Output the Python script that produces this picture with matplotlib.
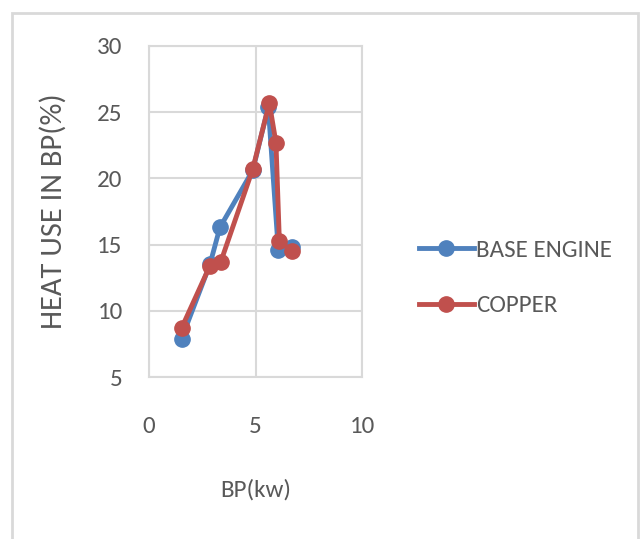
import matplotlib.pyplot as plt
from matplotlib.patches import Rectangle
from matplotlib.lines import Line2D

# data
base_bp = [1.53, 2.86, 3.33, 4.87, 5.6, 6.07, 6.7]
base_heat = [7.9, 13.5, 16.3, 20.6, 25.4, 14.6, 14.8]
copper_bp = [1.53, 2.86, 3.37, 4.87, 5.65, 5.96, 6.12, 6.7]
copper_heat = [8.7, 13.4, 13.7, 20.7, 25.7, 22.7, 15.3, 14.5]
series_names = ['BASE ENGINE', 'COPPER']

blue = '#4F81BD'
red = '#C0504D'
grid = '#D9D9D9'
txt = '#595959'

plt.rcParams['font.family'] = ['Carlito', 'Archivo Narrow', 'DejaVu Sans']

fig = plt.figure(figsize=(6.41, 5.39), dpi=100)
# outer chart border
fig.patches.append(Rectangle((12 / 641, -0.01), 626 / 641, 1 - 13 / 539 + 0.01,
                             transform=fig.transFigure, fill=False,
                             edgecolor='#D9D9D9', linewidth=2))

ax = fig.add_axes([149 / 641, 1 - 377 / 539, 213 / 641, 331 / 539])

ax.plot(base_bp, base_heat, color=blue, linewidth=3.5, marker='o',
        markersize=11, label=series_names[0], zorder=3)
ax.plot(copper_bp, copper_heat, color=red, linewidth=3.5, marker='o',
        markersize=11, label=series_names[1], zorder=4)

ax.set_xlim(0, 10)
ax.set_ylim(5, 30)
ax.set_xticks([0, 5, 10])
ax.set_yticks([5, 10, 15, 20, 25, 30])
ax.grid(True, color=grid, linewidth=1.5)
ax.set_axisbelow(True)
for s in ax.spines.values():
    s.set_color(grid)
    s.set_linewidth(1.5)
ax.tick_params(length=0, labelsize=18, labelcolor=txt)
ax.tick_params(axis='y', pad=19)
ax.tick_params(axis='x', pad=28)

ax.set_xlabel('BP(kw)', fontsize=18, color=txt, labelpad=30)
ax.set_ylabel('HEAT USE IN BP(%)', fontsize=22, color=txt, labelpad=22)

handles = [Line2D([], [], color=blue, linewidth=3.5, marker='o', markersize=11),
           Line2D([], [], color=red, linewidth=3.5, marker='o', markersize=11)]
leg = fig.legend(handles, series_names, loc='center left',
                 bbox_to_anchor=(396 / 641, 1 - 278 / 539), frameon=False,
                 fontsize=18, labelcolor=txt, handlelength=2.2,
                 handletextpad=0.1, labelspacing=1.35)

fig.savefig('out.png', dpi=100)
